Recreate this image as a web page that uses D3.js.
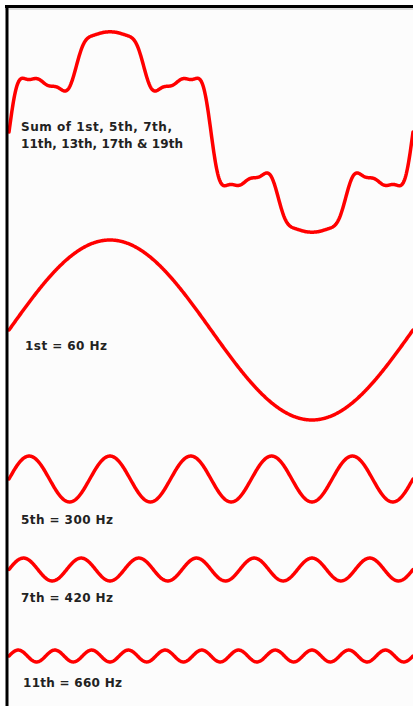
<!DOCTYPE html>
<html>
<head>
<meta charset="utf-8">
<script src="https://cdn.jsdelivr.net/npm/d3@7"></script>
<style>
  html, body { margin: 0; padding: 0; background: #ffffff; }
  svg { display: block; }
  .label { font-family: "DejaVu Sans", sans-serif; font-weight: bold; font-size: 12px; fill: #222; }
  .wave { fill: none; stroke: #ff0000; stroke-width: 3.5; stroke-linejoin: round; stroke-linecap: round; }
</style>
</head>
<body>
<script>
// harmonic orders and relative amplitudes (fundamental = 1)
var orders = [1, 5, 7, 11, 13, 17, 19];
var amps = [1.0, 0.255, 0.127, 0.066, 0.045, 0.026, 0.02];
var sumLabel = ["Sum of 1st, 5th, 7th,", "11th, 13th, 17th & 19th"];

// single components drawn below the sum
var compOrders = [1, 5, 7, 11];
var compLabels = ["1st = 60 Hz", "5th = 300 Hz", "7th = 420 Hz", "11th = 660 Hz"];

(function() {
  var W = 413, H = 706;
  var left = 9;

  // layout: centre line of each trace, px per unit amplitude
  var scale = 90;
  var sumCenter = 132;
  var compCenters = [330, 479, 569.5, 656];
  var sumLabelY = [131, 148], sumLabelW = [151, 162];
  var compLabelY = [350, 524, 602, 687];
  var compLabelX = [25, 21, 21, 23];
  var compLabelW = [82, 92, 92, 99];

  var svg = d3.select("body").append("svg")
    .attr("width", W)
    .attr("height", H);

  svg.append("rect")
    .attr("x", 6).attr("y", 5)
    .attr("width", W - 6).attr("height", H - 5)
    .attr("fill", "#fcfcfc");

  // phase over one fundamental cycle
  var x = d3.scaleLinear().domain([0, 360]).range([left, W]);
  var phases = d3.range(0, 360.25, 0.5);
  var rad = Math.PI / 180;

  function ampOf(n) { return amps[orders.indexOf(n)]; }

  function sumAt(p) {
    return d3.sum(orders, function(n) { return ampOf(n) * Math.sin(n * p * rad); });
  }

  // {{{ sum trace
  var ySum = d3.scaleLinear().domain([-1, 1]).range([sumCenter + scale, sumCenter - scale]);
  svg.append("path")
    .attr("class", "wave")
    .attr("d", d3.line()
      .x(function(p) { return x(p); })
      .y(function(p) { return ySum(sumAt(p)); })(phases));

  svg.selectAll("text.sumlabel")
    .data(sumLabel)
    .enter()
    .append("text")
      .attr("class", "label sumlabel")
      .attr("x", 21)
      .attr("y", function(d, i) { return sumLabelY[i]; })
      .attr("textLength", function(d, i) { return sumLabelW[i]; })
      .attr("lengthAdjust", "spacing")
      .text(function(d) { return d; });
  // }}}

  // {{{ component traces
  compOrders.forEach(function(n, i) {
    var y = d3.scaleLinear().domain([-1, 1])
      .range([compCenters[i] + scale, compCenters[i] - scale]);
    svg.append("path")
      .attr("class", "wave")
      .attr("d", d3.line()
        .x(function(p) { return x(p); })
        .y(function(p) { return y(ampOf(n) * Math.sin(n * p * rad)); })(phases));

    svg.append("text")
      .attr("class", "label")
      .attr("x", compLabelX[i])
      .attr("y", compLabelY[i])
      .attr("textLength", compLabelW[i])
      .attr("lengthAdjust", "spacing")
      .text(compLabels[i]);
  });
  // }}}

  // frame: top and left rules
  svg.append("line")
    .attr("x1", 5).attr("x2", W)
    .attr("y1", 6.5).attr("y2", 6.5)
    .attr("stroke", "#000").attr("stroke-width", 3);
  svg.append("line")
    .attr("x1", W).attr("x2", 5)
    .attr("y1", 9).attr("y2", 9)
    .attr("stroke", "#bbb").attr("stroke-width", 1);
  svg.append("line")
    .attr("x1", 7).attr("x2", 7)
    .attr("y1", 5).attr("y2", H)
    .attr("stroke", "#000").attr("stroke-width", 3);
})();
</script>
</body>
</html>
